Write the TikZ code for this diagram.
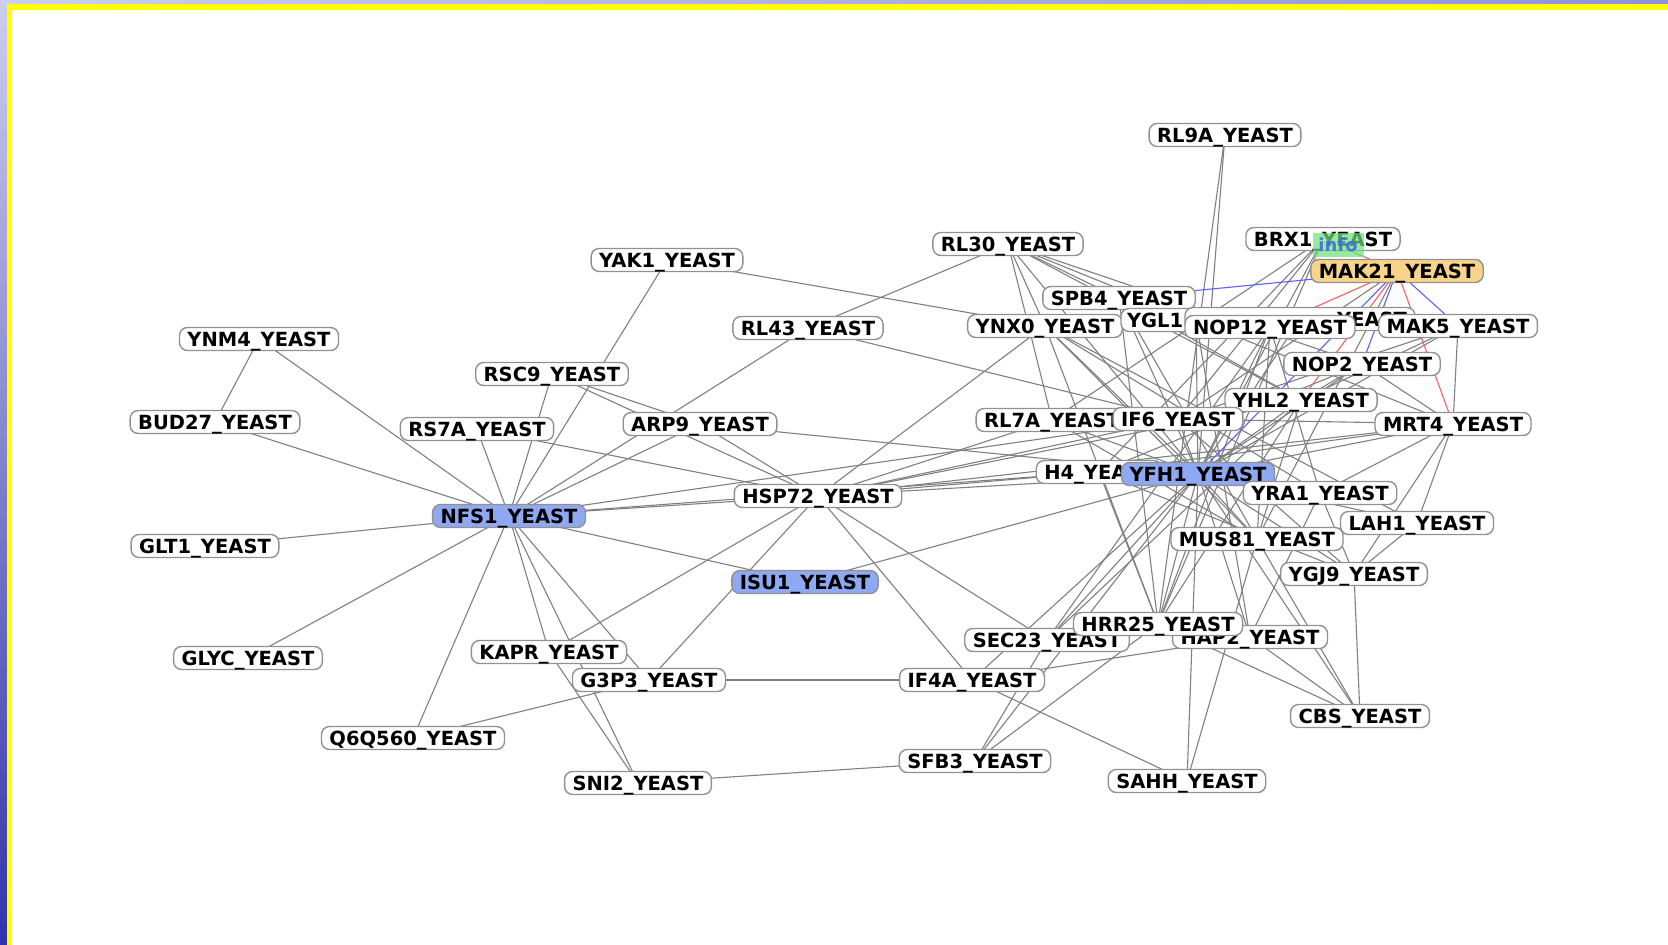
\documentclass[tikz,border=0pt]{standalone}
\usepackage{fontspec}
\newfontfamily\nodefont{DejaVu Sans}
\definecolor{nodegray}{RGB}{145,145,145}
\definecolor{edgegray}{RGB}{128,128,128}
\definecolor{selblue}{RGB}{143,168,242}
\definecolor{selyellow}{RGB}{248,212,138}
\definecolor{edred}{RGB}{255,95,95}
\definecolor{edblue}{RGB}{95,95,255}
\definecolor{infogreen}{RGB}{110,225,120}
\definecolor{infotext}{RGB}{60,110,230}
\definecolor{lavtop}{RGB}{205,205,240}
\definecolor{lavright}{RGB}{145,145,215}
\definecolor{framedark}{RGB}{50,50,175}
\definecolor{frameyellow}{RGB}{255,255,0}
\pgfdeclarelayer{bgl}
\pgfdeclarelayer{edges}
\pgfsetlayers{bgl,edges,main}
\tikzset{
  nd/.style={draw=nodegray, line width=0.7pt, fill=white, rounded corners=4pt,
    inner xsep=4pt, inner ysep=0pt, minimum height=11.5pt,
    text height=7.1pt, text depth=0pt,
    font=\nodefont\bfseries\fontsize{9.75}{10}\selectfont},
  selb/.style={nd, fill=selblue},
  sely/.style={nd, fill=selyellow},
  ed/.style={draw=edgegray, line width=0.55pt},
  edr/.style={draw=edred, line width=0.55pt},
  edb/.style={draw=edblue, line width=0.55pt},
  infobox/.style={fill=infogreen, fill opacity=0.7, text opacity=0.9, text=infotext,
    minimum width=25.5pt, minimum height=12pt, inner sep=0pt,
    font=\nodefont\bfseries\fontsize{9}{10}\selectfont}
}
\begin{document}
\begin{tikzpicture}[x=0.5pt,y=-0.5pt]
\path[use as bounding box] (0,0) rectangle (1668,945);
\begin{pgfonlayer}{bgl}
\fill[white] (0,0) rectangle (1668,945);
\shade[top color=lavtop, bottom color=framedark] (0,0) rectangle (7,945);
\shade[left color=lavtop, right color=lavright] (0,0) rectangle (1668,4);
\fill[frameyellow] (7,4) rectangle (12,945);
\fill[frameyellow] (7,4) rectangle (1668,10);
\end{pgfonlayer}
% nodes
\node[nd] (rl9a) at (1225,135) {RL9A\_YEAST};
\node[nd] (rl30) at (1008,244) {RL30\_YEAST};
\node[nd] (yak1) at (667,260) {YAK1\_YEAST};
\node[nd] (spb4) at (1119,298) {SPB4\_YEAST};
\node[nd] (ynx0) at (1045,326) {YNX0\_YEAST};
\node[nd, inner xsep=3pt, text width=69pt, align=left] (ygl1) at (1196,320) {YGL1};
\node[nd, text width=107pt, align=right] (wide) at (1300,319) {YEAST};
\node[nd] (nop12) at (1270,327) {NOP12\_YEAST};
\node[nd] (mak5) at (1458,326) {MAK5\_YEAST};
\node[nd] (brx1) at (1323,239) {BRX1\_YEAST};
\node[infobox] (info) at (1338,245) {info};
\node[sely] (mak21) at (1397,271) {MAK21\_YEAST};
\node[nd] (nop2) at (1362,364) {NOP2\_YEAST};
\node[nd] (yhl2) at (1301,400) {YHL2\_YEAST};
\node[nd] (rl7a) at (1052,420) {RL7A\_YEAST};
\node[nd] (if6) at (1178,419) {IF6\_YEAST};
\node[nd] (mrt4) at (1453,424) {MRT4\_YEAST};
\node[nd] (h4) at (1099,472) {H4\_YEAST};
\node[selb] (yfh1) at (1198,474) {YFH1\_YEAST};
\node[nd] (yra1) at (1320,493) {YRA1\_YEAST};
\node[nd] (lah1) at (1417,523) {LAH1\_YEAST};
\node[nd] (mus81) at (1257,539) {MUS81\_YEAST};
\node[nd] (ygj9) at (1354,574) {YGJ9\_YEAST};
\node[nd] (sec23) at (1047,640) {SEC23\_YEAST};
\node[nd] (hap2) at (1250,637) {HAP2\_YEAST};
\node[nd] (hrr25) at (1158,624) {HRR25\_YEAST};
\node[nd] (if4a) at (972,680) {IF4A\_YEAST};
\node[nd] (g3p3) at (649,680) {G3P3\_YEAST};
\node[selb] (isu1) at (805,582) {ISU1\_YEAST};
\node[nd] (hsp72) at (818,496) {HSP72\_YEAST};
\node[nd] (sfb3) at (975,761) {SFB3\_YEAST};
\node[nd] (sni2) at (638,783) {SNI2\_YEAST};
\node[nd] (sahh) at (1187,781) {SAHH\_YEAST};
\node[nd] (cbs) at (1360,716) {CBS\_YEAST};
\node[nd] (kapr) at (549,652) {KAPR\_YEAST};
\node[nd] (glyc) at (248,658) {GLYC\_YEAST};
\node[nd] (q6q) at (413,738) {Q6Q560\_YEAST};
\node[nd] (rl43) at (808,328) {RL43\_YEAST};
\node[nd] (arp9) at (700,424) {ARP9\_YEAST};
\node[nd] (rsc9) at (552,374) {RSC9\_YEAST};
\node[nd] (rs7a) at (477,429) {RS7A\_YEAST};
\node[selb] (nfs1) at (509,516) {NFS1\_YEAST};
\node[nd] (ynm4) at (259,339) {YNM4\_YEAST};
\node[nd] (bud27) at (215,422) {BUD27\_YEAST};
\node[nd] (glt1) at (205,546) {GLT1\_YEAST};
% edges
\begin{pgfonlayer}{edges}
\foreach \a/\b in {nfs1/ynm4, ynm4/bud27, nfs1/bud27, nfs1/glt1, nfs1/glyc, nfs1/q6q,
  nfs1/rs7a, nfs1/rsc9, nfs1/yak1, nfs1/hsp72, nfs1/isu1, nfs1/arp9, nfs1/rl43,
  nfs1/kapr, nfs1/sni2, nfs1/g3p3, nfs1/if6, nfs1/h4,
  rs7a/hsp72, rsc9/arp9, rsc9/hsp72, kapr/sni2, kapr/hsp72, g3p3/q6q, g3p3/hsp72,
  g3p3/if4a, rl43/rl30, rl43/if6, yak1/ynx0, arp9/yfh1, arp9/hsp72,
  hsp72/if4a, hsp72/sec23, hsp72/ynx0, hsp72/h4, hsp72/rl7a, hsp72/if6, hsp72/yfh1,
  hsp72/mrt4, hsp72/yhl2, isu1/yfh1, if4a/sahh, if4a/yfh1, if4a/hap2,
  sfb3/sec23, sfb3/hrr25, sfb3/yfh1, sfb3/sni2, sec23/yfh1, hrr25/cbs, hap2/cbs,
  yfh1/cbs, ygj9/cbs, mus81/cbs, sahh/yfh1, sahh/mus81,
  hrr25/yfh1, hrr25/h4, hrr25/ynx0, hrr25/rl9a, hrr25/brx1, hrr25/spb4, hrr25/nop12,
  hap2/yfh1, hap2/yra1, hap2/ygl1,
  yfh1/rl30, yfh1/ynx0, yfh1/spb4, yfh1/ygl1, yfh1/nop12, yfh1/mak5, yfh1/nop2,
  yfh1/yhl2, yfh1/mrt4, yfh1/if6, yfh1/rl7a, yfh1/yra1, yfh1/lah1, yfh1/mus81,
  yfh1/ygj9, yfh1/rl9a, yfh1/brx1, yfh1/wide, yfh1/h4,
  brx1/if6, brx1/h4, brx1/rl7a, mak21/if6, mak21/mus81,
  rl30/ynx0, rl30/rl7a, rl30/spb4, rl30/yhl2, rl30/nop2, rl30/mrt4,
  ynx0/lah1, ynx0/mus81, ynx0/yra1, spb4/mus81, spb4/yhl2,
  mak5/mrt4, mak5/yhl2, mak5/if6,
  mrt4/lah1, mrt4/ygj9, mrt4/if6, mrt4/nop2, mrt4/yra1, mrt4/h4,
  lah1/ygj9, lah1/mus81, yra1/ygj9,
  nop12/mus81, nop12/yra1, nop2/yhl2, nop2/h4, yhl2/mus81, yhl2/hrr25, yhl2/sec23,
  rl7a/mus81, if6/ygj9, h4/ygj9, nop12/sec23}
  \draw[ed] (\a.center) -- (\b.center);
\foreach \a/\b in {mak21/spb4, mak21/yfh1, mak21/nop2, mak21/mak5}
  \draw[edb] (\a.center) -- (\b.center);
\foreach \a/\b in {brx1/mak21, mak21/nop12, mak21/yhl2, mak21/mrt4}
  \draw[edr] (\a.center) -- (\b.center);
\end{pgfonlayer}
\end{tikzpicture}
\end{document}
